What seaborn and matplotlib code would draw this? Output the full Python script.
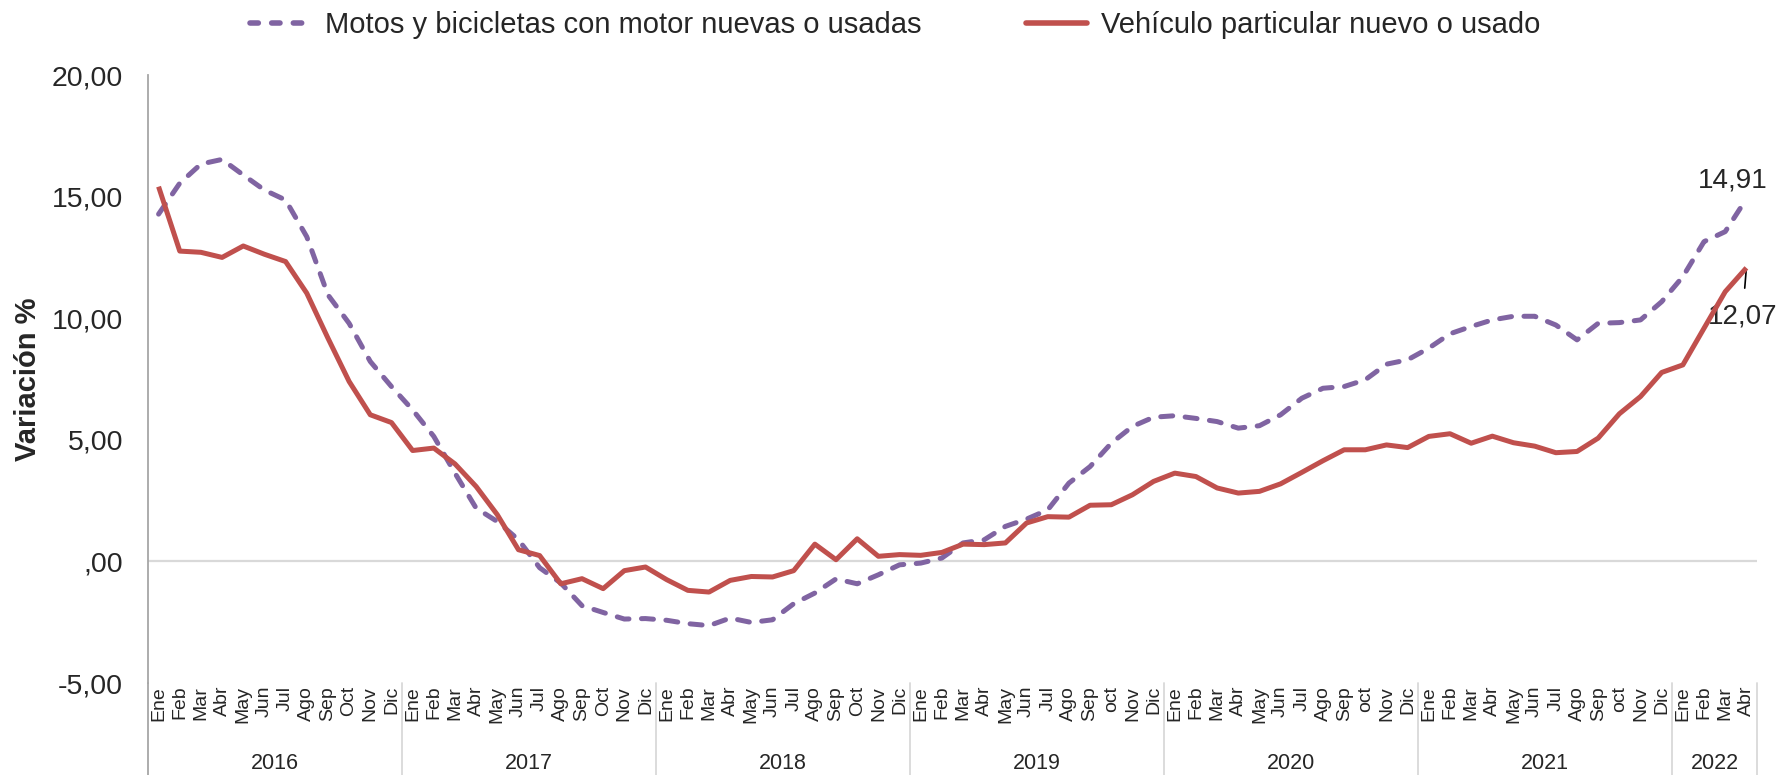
import matplotlib
matplotlib.use("Agg")
import matplotlib.pyplot as plt
from matplotlib.lines import Line2D
import matplotlib.transforms as mtransforms
import numpy as np
import pandas as pd
import seaborn as sns

# Monthly categories (Ene 2016 - Abr 2022)
years = ["2016", "2017", "2018", "2019", "2020", "2021", "2022"]
months_per_year = [12, 12, 12, 12, 12, 12, 4]
month_labels = (
    ["Ene", "Feb", "Mar", "Abr", "May", "Jun", "Jul", "Ago", "Sep", "Oct", "Nov", "Dic"] * 3
    + ["Ene", "Feb", "Mar", "Abr", "May", "Jun", "Jul", "Ago", "Sep", "oct", "Nov", "Dic"] * 3
    + ["Ene", "Feb", "Mar", "Abr"]
)

motos = [
    14.28, 15.55, 16.34, 16.53, 15.89, 15.27, 14.86, 13.35, 10.96, 9.79, 8.22, 7.19,
    6.23, 5.14, 3.63, 2.19, 1.64, 0.89, -0.26, -0.89, -1.82, -2.10, -2.37, -2.35,
    -2.42, -2.56, -2.64, -2.33, -2.51, -2.40, -1.74, -1.30, -0.72, -0.92, -0.55, -0.14,
    -0.07, 0.14, 0.76, 0.89, 1.44, 1.74, 2.12, 3.22, 3.90, 4.86, 5.55, 5.93,
    5.99, 5.88, 5.75, 5.48, 5.58, 6.03, 6.71, 7.12, 7.19, 7.47, 8.11, 8.29,
    8.77, 9.36, 9.66, 9.93, 10.08, 10.08, 9.72, 9.11, 9.79, 9.82, 9.93, 10.68,
    11.71, 13.15, 13.56, 14.91,
]

vehiculo = [
    15.41, 12.76, 12.71, 12.50, 12.97, 12.63, 12.33, 11.03, 9.18, 7.40, 6.03, 5.71,
    4.56, 4.66, 4.01, 3.08, 1.92, 0.48, 0.24, -0.92, -0.71, -1.12, -0.38, -0.23,
    -0.75, -1.19, -1.26, -0.78, -0.62, -0.64, -0.38, 0.71, 0.07, 0.93, 0.21, 0.28,
    0.25, 0.37, 0.71, 0.69, 0.76, 1.58, 1.84, 1.82, 2.31, 2.33, 2.74, 3.29,
    3.63, 3.49, 3.02, 2.81, 2.88, 3.19, 3.66, 4.14, 4.59, 4.59, 4.79, 4.68,
    5.14, 5.25, 4.86, 5.15, 4.88, 4.74, 4.47, 4.52, 5.07, 6.07, 6.78, 7.77,
    8.08, 9.59, 11.09, 12.07,
]

series_names = ["Motos y bicicletas con motor nuevas o usadas", "Vehículo particular nuevo o usado"]
y_ticks = [-5, 0, 5, 10, 15, 20]
y_tick_labels = ["-5,00", ",00", "5,00", "10,00", "15,00", "20,00"]

purple = "#8064A2"
red = "#C0504D"

sns.set_style("white")
plt.rcParams["font.family"] = ["Liberation Sans", "DejaVu Sans"]

n = len(month_labels)
idx = np.arange(n)
df = pd.DataFrame({"idx": idx, "motos": motos, "vehiculo": vehiculo})

fig = plt.figure(figsize=(17.83, 7.75), dpi=100)
ax = fig.add_axes([0.083, 0.1187, 0.9024, 0.7845])

ax.axhline(0, color="#D9D9D9", lw=1.6, zorder=1)

sns.lineplot(data=df, x="idx", y="motos", ax=ax, color=purple, lw=3.6,
             zorder=3, label=series_names[0])
sns.lineplot(data=df, x="idx", y="vehiculo", ax=ax, color=red, lw=3.6,
             zorder=4, label=series_names[1])
l_motos = ax.lines[1]
l_motos.set_dashes([2.4, 2.5])
l_motos.set_dash_capstyle("round")
ax.lines[2].set_solid_capstyle("butt")

ax.set_xlim(-0.5, n - 0.5)
ax.set_ylim(-5, 20)
ax.set_yticks(y_ticks)
ax.set_yticklabels(y_tick_labels, fontsize=20.5)
ax.set_xticks(idx)
ax.set_xticklabels(month_labels, rotation=90, fontsize=14, va="top")
ax.tick_params(axis="both", length=0)
ax.tick_params(axis="y", pad=18)
ax.tick_params(axis="x", pad=2)
ax.set_xlabel("")
ax.set_ylabel("Variación %", fontsize=21, fontweight="bold", labelpad=7)

for s in ["top", "right", "bottom"]:
    ax.spines[s].set_visible(False)
ax.spines["left"].set_color("#A6A6A6")
ax.spines["left"].set_linewidth(1.3)

# Year groups under the month labels, with separators
trans = mtransforms.blended_transform_factory(ax.transData, ax.transAxes)
bounds = np.concatenate([[0], np.cumsum(months_per_year)])
for b in bounds:
    ax.add_line(Line2D([b - 0.5, b - 0.5], [0, -0.155], transform=trans,
                       color="#D9D9D9" if b > 0 else "#A6A6A6", lw=1.3, clip_on=False))
for y, a, b in zip(years, bounds[:-1], bounds[1:]):
    ax.text((a + b - 1) / 2, -0.132, y, transform=trans, ha="center", va="center",
            fontsize=15.5)

# Values for the latest month
ax.annotate(f"{motos[-1]:.2f}".replace(".", ","), xy=(n - 1, motos[-1]),
            xytext=(-14, 18), textcoords="offset pixels", ha="center", va="center",
            fontsize=20)
ax.annotate(f"{vehiculo[-1]:.2f}".replace(".", ","), xy=(n - 1, vehiculo[-1]),
            xytext=(-4, -49), textcoords="offset pixels", ha="center", va="center",
            fontsize=20,
            arrowprops=dict(arrowstyle="-", color="black", lw=1.2, shrinkA=9, shrinkB=2))

ax.get_legend().remove()
handles = [Line2D([], [], color=purple, lw=4, dashes=[1.5, 2.4], dash_capstyle="round"),
           Line2D([], [], color=red, lw=4, solid_capstyle="round")]
fig.legend(handles, series_names, loc="center", bbox_to_anchor=(0.502, 0.968),
           ncol=2, frameon=False, fontsize=21, handlelength=2.1, handletextpad=0.45,
           columnspacing=3.6)

fig.savefig("out.png", dpi=100)
